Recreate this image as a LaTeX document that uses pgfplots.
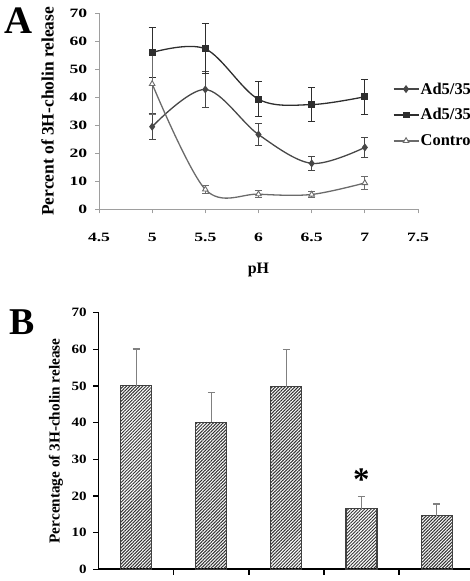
\documentclass[border=0pt]{standalone}
\usepackage{pgfplots}
\pgfplotsset{compat=1.18}
\usepackage{fontspec}
\setmainfont{Liberation Serif}
\newfontfamily\ticksA{Liberation Serif}[FakeStretch=1.38]
\newfontfamily\ticksB{Liberation Serif}[FakeStretch=1.18]
\usetikzlibrary{patterns.meta}

\definecolor{axisgray}{gray}{0.62}
\definecolor{seriesA}{gray}{0.28}
\definecolor{seriesB}{gray}{0.18}
\definecolor{seriesC}{gray}{0.42}
\definecolor{errgray}{gray}{0.5}

\begin{document}
\begin{tikzpicture}
\useasboundingbox (0,0) rectangle (470bp,581bp);
\clip (0,0) rectangle (470bp,581bp);

% ---------------- Panel A: release versus pH ----------------
\begin{axis}[
  at={(99bp,371.7bp)}, anchor=south west,
  scale only axis, width=319bp, height=196bp,
  xmin=4.5, xmax=7.5, ymin=0, ymax=70,
  axis lines*=left,
  axis line style={axisgray, line width=0.9bp},
  xtick={4.5,5,5.5,6,6.5,7,7.5},
  ytick={0,10,20,30,40,50,60,70},
  tick align=outside, major tick length=4bp,
  tick style={axisgray, line width=0.9bp},
  /pgf/number format/assume math mode=true,
  tick label style={font=\ticksA\bfseries\fontsize{12.8}{14}\selectfont, inner sep=0pt},
  xticklabel style={yshift=-20bp},
  yticklabel style={xshift=-7.7bp},
  xlabel={pH},
  ylabel={Percent of 3H-cholin release},
  xlabel style={at={(axis description cs:0.5,-0.31)}, anchor=center,
                font=\bfseries\fontsize{16}{18}\selectfont},
  ylabel style={at={(axis description cs:-0.1614,0.5)}, anchor=center,
                font=\bfseries\fontsize{17.5}{20}\selectfont},
  legend cell align=left,
  legend style={at={(0.9207,0.655)}, anchor=north west, draw=none, fill=none,
                inner sep=0pt, row sep=10bp,
                font=\bfseries\fontsize{16.5}{18}\selectfont,
                nodes={inner sep=1.5bp}},
  legend image code/.code={%
    \draw[mark repeat=2,mark phase=2,#1]
      plot coordinates {(0bp,0bp) (12.5bp,0bp) (25bp,0bp)};},
]
\addplot[seriesA, line width=1.3bp, smooth, tension=0.55,
  mark=diamond*, mark size=3bp, mark options={solid, fill=seriesA},
  error bars/.cd, y dir=both, y explicit,
  error bar style={line width=1.1bp, seriesA},
  error mark options={rotate=90, mark size=3.5bp, line width=1.1bp, seriesA}]
  coordinates {
    (5,29.5)   +- (0,4.7)
    (5.5,42.8) +- (0,6.3)
    (6,26.7)   +- (0,4.0)
    (6.5,16.4) +- (0,2.4)
    (7,22.1)   +- (0,3.5)
  };
\addlegendentry{Ad5/35}
\addplot[seriesB, line width=1.3bp, smooth, tension=0.55,
  mark=square*, mark size=2.8bp, mark options={solid, fill=seriesB},
  error bars/.cd, y dir=both, y explicit,
  error bar style={line width=1.1bp, seriesB},
  error mark options={rotate=90, mark size=3.5bp, line width=1.1bp, seriesB}]
  coordinates {
    (5,56.0)   +- (0,9.0)
    (5.5,57.3) +- (0,8.9)
    (6,39.3)   +- (0,6.3)
    (6.5,37.4) +- (0,6.0)
    (7,40.2)   +- (0,6.3)
  };
\addlegendentry{Ad5/35}
\addplot[seriesC, line width=1.3bp, smooth, tension=0.55,
  mark=triangle*, mark size=3.2bp, mark options={solid, fill=white, line width=0.9bp},
  error bars/.cd, y dir=both, y explicit,
  error bar style={line width=1.1bp, seriesC},
  error mark options={rotate=90, mark size=3.5bp, line width=1.1bp, seriesC}]
  coordinates {
    (5,44.8)   +- (0,11.0)
    (5.5,7.1)  +- (0,1.4)
    (6,5.4)    +- (0,1.2)
    (6.5,5.3)  +- (0,1.2)
    (7,9.4)    +- (0,2.2)
  };
\addlegendentry{Control}
\end{axis}

% ---------------- Panel B: release per condition ----------------
\begin{axis}[
  at={(98.6bp,11.7bp)}, anchor=south west,
  scale only axis, width=375.5bp, height=256.7bp,
  xmin=-0.5, xmax=4.5, ymin=0, ymax=70,
  axis lines*=left,
  axis line style={black, line width=1.7bp},
  xtick={0.5,1.5,2.5,3.5,4.5}, xticklabels={{},{},{},{},{}},
  ytick={0,10,20,30,40,50,60,70},
  tick align=outside, major tick length=5.5bp,
  tick style={black, line width=1.4bp},
  /pgf/number format/assume math mode=true,
  tick label style={font=\ticksB\bfseries\fontsize{12.8}{14}\selectfont, inner sep=0pt},
  yticklabel style={xshift=-6.2bp},
  ylabel={Percentage of 3H-cholin release},
  ylabel style={at={(axis description cs:-0.1134,0.5)}, anchor=center,
                font=\bfseries\fontsize{15.3}{17}\selectfont},
  ybar, bar width=31bp,
]
\addplot[draw=black!75, line width=1.1bp,
  pattern={Lines[angle=45, distance=2.3bp, line width=1.0bp]}, pattern color=black!80,
  error bars/.cd, y dir=plus, y explicit,
  error bar style={errgray, line width=1.2bp},
  error mark options={rotate=90, mark size=3.5bp, errgray, line width=1.2bp}]
  coordinates {
    (0,50.1) +- (0,10.0)
    (1,40.1) +- (0,8.1)
    (2,49.8) +- (0,10.2)
    (3,16.5) +- (0,3.3)
    (4,14.6) +- (0,3.2)
  };
\node[anchor=base, inner sep=0pt, font=\bfseries\fontsize{33}{35}\selectfont]
  at (axis cs:3,21.5) {*};
\end{axis}

% panel letters
\node[anchor=base west, inner sep=0pt, font=\bfseries\fontsize{39}{41}\selectfont]
  at (4bp,547.7bp) {A};
\node[anchor=base west, inner sep=0pt, font=\bfseries\fontsize{38}{40}\selectfont]
  at (9bp,246bp) {B};
\end{tikzpicture}
\end{document}
